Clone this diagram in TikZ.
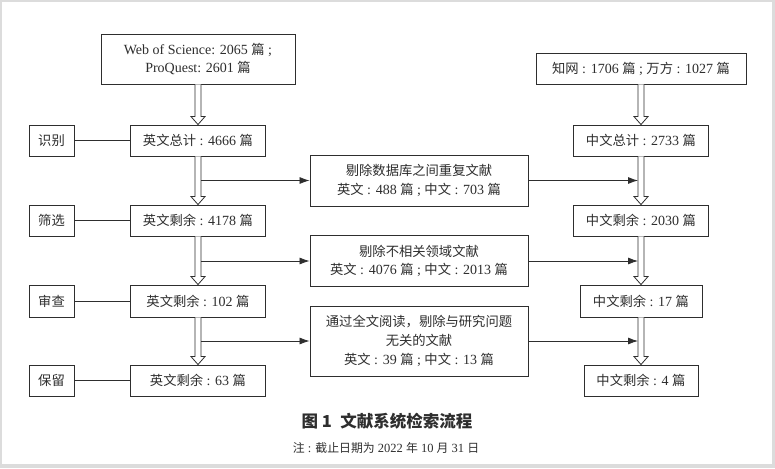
\documentclass[tikz,border=0pt]{standalone}
\usepackage{fontspec}
\setmainfont{Liberation Serif}
\newfontfamily\cjk[Scale=0.95]{Noto Sans CJK SC}
\newfontfamily\cjkcap{Noto Sans CJK SC}
\newcommand\zh[1]{{\cjk #1}}
\usetikzlibrary{arrows.meta,calc}
\definecolor{ink}{HTML}{2E2E2E}
\definecolor{frame}{HTML}{DCDCDC}
\begin{document}
\begin{tikzpicture}[x=1pt,y=-1pt,
  box/.style={draw=ink,line width=0.9pt,inner sep=0pt,align=center,text=ink,
    font=\fontsize{14}{18.7}\selectfont},
  hollow/.style={draw=ink,fill=white,line width=0.8pt,
    to path={let \p1=(\tikztostart), \p2=(\tikztotarget) in
      (\x1-3pt,\y1) -- (\x1-3pt,\y2+8pt) -- (\x1-7pt,\y2+8pt) -- (\x1,\y2)
      -- (\x1+7pt,\y2+8pt) -- (\x1+3pt,\y2+8pt) -- (\x1+3pt,\y1)}},
  harrow/.style={draw=ink,line width=0.8pt,-{Latex[length=10pt,width=7pt]}},
  link/.style={draw=ink,line width=0.8pt}]
\useasboundingbox (0,0) rectangle (775,468);
\fill[frame] (0,0) rectangle (775,468);
\fill[white] (2,2) rectangle (772,464);

% top sources
\node[box,minimum width=194pt,minimum height=50pt] (wos) at (198,59)
  {Web of Science: 2065 \zh{篇} ;\\ProQuest: 2601 \zh{篇}};
\node[box,minimum width=210pt,minimum height=31pt] (zw) at (641,68.5)
  {\zh{知网} : 1706 \zh{篇} ; \zh{万方} : 1027 \zh{篇}};

% row 1
\node[box,minimum width=45pt,minimum height=31pt] (l1) at (51.5,140.5) {\zh{识别}};
\node[box,minimum width=135pt,minimum height=31pt] (e1) at (198,140.5) {\zh{英文总计} : 4666 \zh{篇}};
\node[box,minimum width=135pt,minimum height=31pt] (c1) at (641,140.5) {\zh{中文总计} : 2733 \zh{篇}};
\node[box,minimum width=218pt,minimum height=51pt] (m1) at (419,180.5)
  {\zh{剔除数据库之间重复文献}\\\zh{英文} : 488 \zh{篇} ; \zh{中文} : 703 \zh{篇}};

% row 2
\node[box,minimum width=45pt,minimum height=31pt] (l2) at (51.5,220.5) {\zh{筛选}};
\node[box,minimum width=135pt,minimum height=31pt] (e2) at (198,220.5) {\zh{英文剩余} : 4178 \zh{篇}};
\node[box,minimum width=135pt,minimum height=31pt] (c2) at (641,220.5) {\zh{中文剩余} : 2030 \zh{篇}};
\node[box,minimum width=218pt,minimum height=51pt] (m2) at (419,261)
  {\zh{剔除不相关领域文献}\\\zh{英文} : 4076 \zh{篇} ; \zh{中文} : 2013 \zh{篇}};

% row 3
\node[box,minimum width=45pt,minimum height=32pt] (l3) at (51.5,301) {\zh{审查}};
\node[box,minimum width=135pt,minimum height=32pt] (e3) at (198,301) {\zh{英文剩余} : 102 \zh{篇}};
\node[box,minimum width=122pt,minimum height=32pt] (c3) at (641,301) {\zh{中文剩余} : 17 \zh{篇}};
\node[box,minimum width=218pt,minimum height=70pt] (m3) at (419,341)
  {\zh{通过全文阅读，剔除与研究问题}\\\zh{无关的文献}\\\zh{英文} : 39 \zh{篇} ; \zh{中文} : 13 \zh{篇}};

% row 4
\node[box,minimum width=45pt,minimum height=31pt] (l4) at (51.5,380.5) {\zh{保留}};
\node[box,minimum width=135pt,minimum height=31pt] (e4) at (198,380.5) {\zh{英文剩余} : 63 \zh{篇}};
\node[box,minimum width=114pt,minimum height=31pt] (c4) at (641,380.5) {\zh{中文剩余} : 4 \zh{篇}};

% caption
\node[text=ink,font=\cjkcap\bfseries\fontsize{16.5}{19}\selectfont] (cap) at (387,421.5) {图 1\hspace{0.5em}文献系统检索流程};
\node[text=ink,font=\fontsize{12.5}{14}\selectfont] (note) at (386,448)
  {\zh{注} : \zh{截止日期为} 2022 \zh{年} 10 \zh{月} 31 \zh{日}};

% label links
\foreach \i in {1,2,3,4} \draw[link] (l\i.east) -- (e\i.west);

% hollow arrows
\path[hollow] (wos.south) to (e1.north);
\path[hollow] (e1.south) to (e2.north);
\path[hollow] (e2.south) to (e3.north);
\path[hollow] (e3.south) to (e4.north);
\path[hollow] (zw.south) to (c1.north);
\path[hollow] (c1.south) to (c2.north);
\path[hollow] (c2.south) to (c3.north);
\path[hollow] (c3.south) to (c4.north);

% side arrows
\foreach \i/\j in {1/1,2/2,3/3} {
  \draw[harrow] ($(e\i.south |- m\j.west)+(3,0)$) -- (m\j.west);
  \draw[harrow] (m\j.east) -- ($(c\i.south |- m\j.east)+(-3,0)$);
}
\end{tikzpicture}
\end{document}
